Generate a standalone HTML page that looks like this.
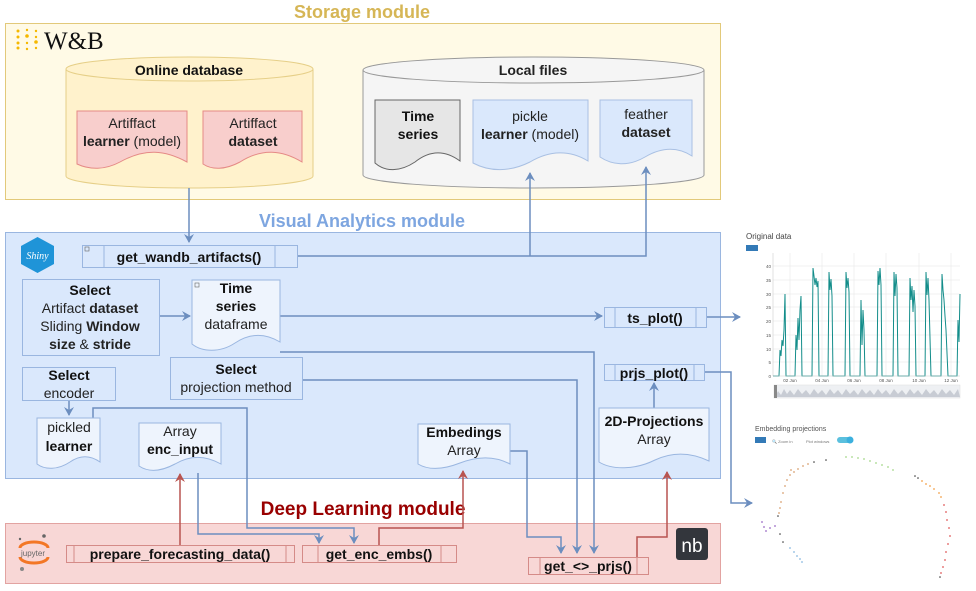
<!DOCTYPE html>
<html><head><meta charset="utf-8"><style>
html,body{margin:0;padding:0;background:#fff;}
svg{display:block;font-family:"Liberation Sans",Arial,sans-serif;}
</style></head><body>
<svg width="976" height="591" viewBox="0 0 976 591" xmlns="http://www.w3.org/2000/svg">
<defs>
<marker id="ab" markerWidth="10" markerHeight="10" refX="8" refY="5" orient="auto" markerUnits="userSpaceOnUse"><path d="M0,0 L9,5 L0,10 L3,5 z" fill="#6c8ebf"/></marker>
<marker id="ar" markerWidth="10" markerHeight="10" refX="8" refY="5" orient="auto" markerUnits="userSpaceOnUse"><path d="M0,0 L9,5 L0,10 L3,5 z" fill="#b85450"/></marker>
</defs>

<!-- Storage module -->
<text x="362" y="18" text-anchor="middle" font-size="18" font-weight="bold" fill="#d6b656">Storage module</text>
<rect x="5.5" y="23.5" width="715" height="176" fill="#fffae6" stroke="#e2c97a"/>
<g fill="#f5b800">
<circle cx="18" cy="31" r="1.5"/><circle cx="18" cy="37" r="1.5"/><circle cx="18" cy="43" r="1.5"/><circle cx="18" cy="48" r="1.5"/>
<circle cx="27" cy="30" r="1.2"/><circle cx="27" cy="36" r="1.8"/><circle cx="27" cy="43" r="1.2"/><circle cx="27" cy="49" r="1.2"/>
<circle cx="36" cy="31" r="1.2"/><circle cx="36" cy="37" r="1.2"/><circle cx="36" cy="42" r="1.8"/><circle cx="36" cy="48" r="1.2"/>
</g>
<text x="44" y="49" font-family="Liberation Serif,serif" font-size="25" fill="#111">W&amp;B</text>

<!-- Online database cylinder -->
<path d="M66,69 A123.5,12 0 0 1 313,69 V176 A123.5,12 0 0 1 66,176 Z" fill="#fff2cc" stroke="#e6cf88"/>
<path d="M66,69 A123.5,12 0 0 0 313,69" fill="none" stroke="#e6cf88"/>
<text x="189" y="75" text-anchor="middle" font-size="14" font-weight="bold" fill="#111">Online database</text>
<path d="M77,111 H187 V162 C165,150 145,148 120,162 C105,170 90,170 77,164 Z" fill="#f8cecc" stroke="#e58a86"/>
<text x="132" y="128" text-anchor="middle" font-size="14" fill="#222">Artiffact</text>
<text x="132" y="146" text-anchor="middle" font-size="14" fill="#222"><tspan font-weight="bold">learner</tspan> (model)</text>
<path d="M203,111 H302 V162 C282,150 262,148 240,162 C225,170 212,170 203,164 Z" fill="#f8cecc" stroke="#e58a86"/>
<text x="253" y="128" text-anchor="middle" font-size="14" fill="#222">Artiffact</text>
<text x="253" y="146" text-anchor="middle" font-size="14" font-weight="bold" fill="#222">dataset</text>

<!-- Local files cylinder -->
<path d="M363,70 A170.5,13 0 0 1 704,70 V175 A170.5,13 0 0 1 363,175 Z" fill="#f5f5f5" stroke="#999"/>
<path d="M363,70 A170.5,13 0 0 0 704,70" fill="none" stroke="#999"/>
<text x="533" y="75" text-anchor="middle" font-size="14" font-weight="bold" fill="#222">Local files</text>
<path d="M375,100 H460 V161 C445,150 430,150 415,162 C400,172 385,172 375,163 Z" fill="#e6e6e6" stroke="#666"/>
<text x="418" y="121" text-anchor="middle" font-size="14" font-weight="bold" fill="#111">Time</text>
<text x="418" y="139" text-anchor="middle" font-size="14" font-weight="bold" fill="#111">series</text>
<path d="M473,100 H588 V161 C570,150 550,150 530,162 C510,172 490,172 473,163 Z" fill="#dae8fc" stroke="#a9c0e3"/>
<text x="530" y="121" text-anchor="middle" font-size="14" fill="#222">pickle</text>
<text x="530" y="139" text-anchor="middle" font-size="14" fill="#222"><tspan font-weight="bold">learner</tspan> (model)</text>
<path d="M600,100 H692 V156 C678,147 662,147 645,157 C628,167 612,165 600,157 Z" fill="#dae8fc" stroke="#a9c0e3"/>
<text x="646" y="119" text-anchor="middle" font-size="14" fill="#222">feather</text>
<text x="646" y="137" text-anchor="middle" font-size="14" font-weight="bold" fill="#222">dataset</text>

<!-- Visual Analytics module -->
<text x="362" y="227" text-anchor="middle" font-size="18" font-weight="bold" fill="#7ea6e0">Visual Analytics module</text>
<rect x="5.5" y="232.5" width="715" height="246" fill="#dae8fc" stroke="#9ab6e0"/>
<polygon points="37.5,237 54,246 54,264 37.5,273 21,264 21,246" fill="#1f94d8"/>
<text x="37.5" y="259" text-anchor="middle" font-family="Liberation Serif,serif" font-style="italic" font-size="10" fill="#fff">Shiny</text>

<!-- Deep Learning module -->
<text x="363" y="515" text-anchor="middle" font-size="19" font-weight="bold" fill="#990000">Deep Learning module</text>
<rect x="5.5" y="523.5" width="715" height="60" fill="#f8d7d6" stroke="#e2a3a1"/>
<g>
<path d="M20,548 A14,6 0 0 1 48,548" fill="none" stroke="#f37726" stroke-width="3"/>
<path d="M20,557 A14,6 0 0 0 48,557" fill="none" stroke="#f37726" stroke-width="3"/>
<circle cx="44" cy="536" r="1.8" fill="#666"/><circle cx="20" cy="539" r="1.2" fill="#666"/><circle cx="22" cy="569" r="2" fill="#888"/>
<text x="33" y="556" text-anchor="middle" font-size="8" fill="#666">jupyter</text>
</g>
<rect x="676" y="528" width="32" height="32" rx="3" fill="#33363c"/>
<text x="692" y="552" text-anchor="middle" font-size="19" fill="#fff">nb</text>

<!-- connectors blue -->
<g fill="none" stroke="#6c8ebf" stroke-width="1.5">
<path d="M189,188 V242" marker-end="url(#ab)"/>
<path d="M297,256 H646 V167" marker-end="url(#ab)"/>
<path d="M530,256 V173" marker-end="url(#ab)"/>
<path d="M159,316 H190" marker-end="url(#ab)"/>
<path d="M280,316 H602" marker-end="url(#ab)"/>
<path d="M706,317 H740" marker-end="url(#ab)"/>
<path d="M280,352 H594 V553" marker-end="url(#ab)"/>
<path d="M302,380 H577 V553" marker-end="url(#ab)"/>
<path d="M704,372 H731 V503 H752" marker-end="url(#ab)"/>
<path d="M654,408 V383" marker-end="url(#ab)"/>
<path d="M69,400 V415" marker-end="url(#ab)"/>
<path d="M93,418 V408 H247 V528 H354 V543" marker-end="url(#ab)"/>
<path d="M198,473 V534 H319 V543" marker-end="url(#ab)"/>
<path d="M510,451 H527 V537 H561 V553" marker-end="url(#ab)"/>
</g>
<g fill="none" stroke="#b85450" stroke-width="1.5">
<path d="M180,546 V474" marker-end="url(#ar)"/>
<path d="M379,545 V528 H463 V471" marker-end="url(#ar)"/>
<path d="M637,557 V537 H667 V472" marker-end="url(#ar)"/>
</g>

<!-- VA boxes -->
<rect x="82.5" y="245.5" width="215" height="22" fill="#dae8fc" stroke="#9ab6e0"/>
<line x1="104" y1="245" x2="104" y2="267" stroke="#9ab6e0"/><line x1="275" y1="245" x2="275" y2="267" stroke="#9ab6e0"/>
<rect x="85" y="247" width="4" height="4" fill="none" stroke="#666" stroke-width="0.6"/>
<text x="189" y="262" text-anchor="middle" font-size="14" font-weight="bold" fill="#111">get_wandb_artifacts()</text>

<rect x="22.5" y="279.5" width="137" height="76" fill="#dae8fc" stroke="#9ab6e0"/>
<text x="90" y="295" text-anchor="middle" font-size="14" font-weight="bold" fill="#111">Select</text>
<text x="90" y="313" text-anchor="middle" font-size="14" fill="#222">Artifact <tspan font-weight="bold">dataset</tspan></text>
<text x="90" y="331" text-anchor="middle" font-size="14" fill="#222">Sliding <tspan font-weight="bold">Window</tspan></text>
<text x="90" y="349" text-anchor="middle" font-size="14" fill="#222"><tspan font-weight="bold">size</tspan> &amp; <tspan font-weight="bold">stride</tspan></text>

<path d="M192,280 H280 V342 C265,333 250,333 235,343 C220,353 202,352 192,344 Z" fill="#eef4fd" stroke="#9ab6e0"/>
<rect x="195" y="283" width="4" height="4" fill="none" stroke="#666" stroke-width="0.6"/>
<text x="236" y="293" text-anchor="middle" font-size="14" font-weight="bold" fill="#111">Time</text>
<text x="236" y="311" text-anchor="middle" font-size="14" font-weight="bold" fill="#111">series</text>
<text x="236" y="329" text-anchor="middle" font-size="14" fill="#222">dataframe</text>

<rect x="604.5" y="307.5" width="102" height="20" fill="#dae8fc" stroke="#9ab6e0"/>
<line x1="615" y1="307" x2="615" y2="327" stroke="#9ab6e0"/><line x1="696" y1="307" x2="696" y2="327" stroke="#9ab6e0"/>
<text x="655" y="323" text-anchor="middle" font-size="14" font-weight="bold" fill="#111">ts_plot()</text>

<rect x="170.5" y="357.5" width="132" height="42" fill="#dae8fc" stroke="#9ab6e0"/>
<text x="236" y="374" text-anchor="middle" font-size="14" font-weight="bold" fill="#111">Select</text>
<text x="236" y="392" text-anchor="middle" font-size="14" fill="#222">projection method</text>

<rect x="604.5" y="364.5" width="100" height="16" fill="#dae8fc" stroke="#9ab6e0"/>
<line x1="615" y1="364" x2="615" y2="380" stroke="#9ab6e0"/><line x1="694" y1="364" x2="694" y2="380" stroke="#9ab6e0"/>
<text x="654" y="378" text-anchor="middle" font-size="14" font-weight="bold" fill="#111">prjs_plot()</text>

<rect x="22.5" y="367.5" width="93" height="33" fill="#dae8fc" stroke="#9ab6e0"/>
<text x="69" y="380" text-anchor="middle" font-size="14" font-weight="bold" fill="#111">Select</text>
<text x="69" y="398" text-anchor="middle" font-size="14" fill="#222">encoder</text>

<path d="M37,418 H100 V462 C90,455 80,455 70,462 C58,470 45,470 37,464 Z" fill="#eef4fd" stroke="#9ab6e0"/>
<text x="69" y="432" text-anchor="middle" font-size="14" fill="#222">pickled</text>
<text x="69" y="451" text-anchor="middle" font-size="14" font-weight="bold" fill="#111">learner</text>

<path d="M139,423 H221 V464 C205,455 190,455 175,464 C160,472 148,472 139,466 Z" fill="#eef4fd" stroke="#9ab6e0"/>
<text x="180" y="436" text-anchor="middle" font-size="14" fill="#222">Array</text>
<text x="180" y="454" text-anchor="middle" font-size="14" font-weight="bold" fill="#111">enc_input</text>

<path d="M418,424 H510 V464 C495,456 478,456 460,463 C442,470 428,470 418,464 Z" fill="#eef4fd" stroke="#9ab6e0"/>
<text x="464" y="437" text-anchor="middle" font-size="14" font-weight="bold" fill="#111">Embedings</text>
<text x="464" y="455" text-anchor="middle" font-size="14" fill="#222">Array</text>

<path d="M599,408 H709 V461 C690,452 672,452 655,460 C635,470 612,470 599,462 Z" fill="#eef4fd" stroke="#9ab6e0"/>
<text x="654" y="426" text-anchor="middle" font-size="14" font-weight="bold" fill="#111">2D-Projections</text>
<text x="654" y="444" text-anchor="middle" font-size="14" fill="#222">Array</text>

<!-- DL boxes -->
<rect x="66.5" y="545.5" width="228" height="17" fill="#f8d7d6" stroke="#d58b88"/>
<line x1="74" y1="545" x2="74" y2="562" stroke="#d58b88"/><line x1="286" y1="545" x2="286" y2="562" stroke="#d58b88"/>
<text x="180" y="559" text-anchor="middle" font-size="14" font-weight="bold" fill="#111">prepare_forecasting_data()</text>
<rect x="302.5" y="545.5" width="154" height="17" fill="#f8d7d6" stroke="#d58b88"/>
<line x1="318" y1="545" x2="318" y2="562" stroke="#d58b88"/><line x1="441" y1="545" x2="441" y2="562" stroke="#d58b88"/>
<text x="379" y="559" text-anchor="middle" font-size="14" font-weight="bold" fill="#111">get_enc_embs()</text>
<rect x="528.5" y="557.5" width="120" height="17" fill="#f8d7d6" stroke="#d58b88"/>
<line x1="540" y1="557" x2="540" y2="574" stroke="#d58b88"/><line x1="637" y1="557" x2="637" y2="574" stroke="#d58b88"/>
<text x="588" y="571" text-anchor="middle" font-size="14" font-weight="bold" fill="#111">get_&lt;&gt;_prjs()</text>

<!-- Original data chart -->
<text x="746" y="239" font-size="8" fill="#444">Original data</text>
<rect x="746" y="245" width="12" height="6" fill="#337ab7"/>
<g stroke="#e6e6e6" stroke-width="0.6">
<line x1="773" y1="266" x2="960" y2="266"/><line x1="773" y1="280" x2="960" y2="280"/><line x1="773" y1="294" x2="960" y2="294"/><line x1="773" y1="307" x2="960" y2="307"/><line x1="773" y1="321" x2="960" y2="321"/><line x1="773" y1="335" x2="960" y2="335"/><line x1="773" y1="349" x2="960" y2="349"/><line x1="773" y1="362" x2="960" y2="362"/>
<line x1="790" y1="253" x2="790" y2="376"/><line x1="822" y1="253" x2="822" y2="376"/><line x1="854" y1="253" x2="854" y2="376"/><line x1="886" y1="253" x2="886" y2="376"/><line x1="919" y1="253" x2="919" y2="376"/><line x1="951" y1="253" x2="951" y2="376"/>
</g>
<line x1="773" y1="253" x2="773" y2="376" stroke="#ccc" stroke-width="0.6"/>
<g font-size="4.5" fill="#555" text-anchor="end">
<text x="771" y="268">40</text><text x="771" y="282">35</text><text x="771" y="296">30</text><text x="771" y="309">25</text><text x="771" y="323">20</text><text x="771" y="337">15</text><text x="771" y="351">10</text><text x="771" y="364">5</text><text x="771" y="378">0</text>
</g>
<g font-size="4.5" fill="#555" text-anchor="middle">
<text x="790" y="382">02 Jun</text><text x="822" y="382">04 Jun</text><text x="854" y="382">06 Jun</text><text x="886" y="382">08 Jun</text><text x="919" y="382">10 Jun</text><text x="951" y="382">12 Jun</text>
</g>
<polyline fill="none" stroke="#138d8a" stroke-width="1" points="773,376 779,376 780,350 781,356 782,340 783,346 784,330 785,294 786,376 795,376 796,335 797,350 798,318 799,340 800,310 801,296 802,376 812,376 813,268 814,276 815,285 816,278 817,287 818,281 819,376 828,376 829,272 830,290 831,279 832,296 833,376 845,376 846,272 847,288 848,278 849,292 850,376 860,376 861,300 862,345 863,310 864,330 865,376 877,376 878,271 879,285 880,268 881,285 882,376 893,376 894,272 895,296 896,274 897,288 898,376 909,376 910,278 911,300 912,286 913,312 914,290 915,306 916,376 925,376 926,272 927,295 928,278 929,300 931,376 941,376 942,274 943,290 944,300 945,316 946,330 948,376 957,376 958,320 959,342 960,294"/>
<line x1="773" y1="376" x2="960" y2="376" stroke="#ccc" stroke-width="0.6"/>
<rect x="774" y="385" width="186" height="13" fill="#eef0f3" stroke="#ddd" stroke-width="0.5"/>
<path d="M775,397 L778,391 781,395 784,389 787,394 790,390 794,395 798,389 802,394 806,390 810,395 814,389 818,394 822,390 826,395 830,389 834,394 838,390 842,395 846,389 850,394 854,390 858,395 862,389 866,394 870,390 874,395 878,389 882,394 886,390 890,395 894,389 898,394 902,390 906,395 910,389 914,394 918,390 922,395 926,389 930,394 934,390 938,395 942,389 946,394 950,390 954,395 958,389 960,397 Z" fill="#c8ccd4"/>
<rect x="774" y="385" width="3" height="13" fill="#888"/>

<!-- Embedding projections -->
<text x="755" y="431" font-size="7" fill="#555">Embedding projections</text>
<rect x="755" y="437" width="11" height="6" fill="#337ab7"/>
<text x="772" y="443" font-size="4" fill="#777">🔍 Zoom in</text>
<text x="806" y="443" font-size="4" fill="#777">Plot windows</text>
<rect x="837" y="437" width="15" height="6" rx="3" fill="#5bc0de"/>
<circle cx="850" cy="440" r="3.5" fill="#3bb0de"/>
<g>
<g fill="#d9a070"><circle cx="790" cy="475" r="0.9"/><circle cx="794" cy="472" r="0.9"/><circle cx="798" cy="469" r="0.9"/><circle cx="803" cy="466" r="0.9"/><circle cx="787" cy="480" r="0.9"/><circle cx="785" cy="486" r="0.9"/><circle cx="783" cy="493" r="0.9"/><circle cx="781" cy="502" r="0.9"/><circle cx="780" cy="508" r="0.9"/><circle cx="779" cy="513" r="0.9"/><circle cx="808" cy="464" r="0.9"/><circle cx="791" cy="470" r="0.9"/></g>
<g fill="#333"><circle cx="814" cy="462" r="0.8"/><circle cx="826" cy="460" r="0.8"/><circle cx="778" cy="516" r="0.8"/><circle cx="780" cy="534" r="0.8"/><circle cx="783" cy="542" r="0.8"/><circle cx="915" cy="476" r="0.8"/><circle cx="918" cy="478" r="0.8"/><circle cx="940" cy="577" r="0.8"/></g>
<g fill="#a4d88a"><circle cx="846" cy="457" r="0.9"/><circle cx="852" cy="457" r="0.9"/><circle cx="858" cy="458" r="0.9"/><circle cx="864" cy="459" r="0.9"/><circle cx="870" cy="461" r="0.9"/><circle cx="876" cy="463" r="0.9"/><circle cx="882" cy="465" r="0.9"/><circle cx="888" cy="467" r="0.9"/><circle cx="893" cy="470" r="0.9"/></g>
<g fill="#f2a04a"><circle cx="922" cy="481" r="0.9"/><circle cx="926" cy="484" r="0.9"/><circle cx="930" cy="486" r="0.9"/><circle cx="934" cy="489" r="0.9"/><circle cx="939" cy="493" r="0.9"/><circle cx="941" cy="497" r="0.9"/></g>
<g fill="#e05a5a"><circle cx="944" cy="505" r="0.9"/><circle cx="946" cy="512" r="0.9"/><circle cx="947" cy="520" r="0.9"/><circle cx="949" cy="528" r="0.9"/><circle cx="950" cy="536" r="0.9"/><circle cx="948" cy="544" r="0.9"/><circle cx="946" cy="552" r="0.9"/><circle cx="945" cy="560" r="0.9"/><circle cx="943" cy="567" r="0.9"/><circle cx="941" cy="573" r="0.9"/></g>
<g fill="#9a6ac4"><circle cx="762" cy="522" r="0.9"/><circle cx="764" cy="527" r="0.9"/><circle cx="766" cy="531" r="0.9"/><circle cx="770" cy="528" r="0.9"/><circle cx="775" cy="526" r="0.9"/></g>
<g fill="#8ab8e0"><circle cx="790" cy="548" r="0.9"/><circle cx="794" cy="552" r="0.9"/><circle cx="797" cy="556" r="0.9"/><circle cx="800" cy="559" r="0.9"/><circle cx="802" cy="562" r="0.9"/></g>
</g>
</svg>
</body></html>
